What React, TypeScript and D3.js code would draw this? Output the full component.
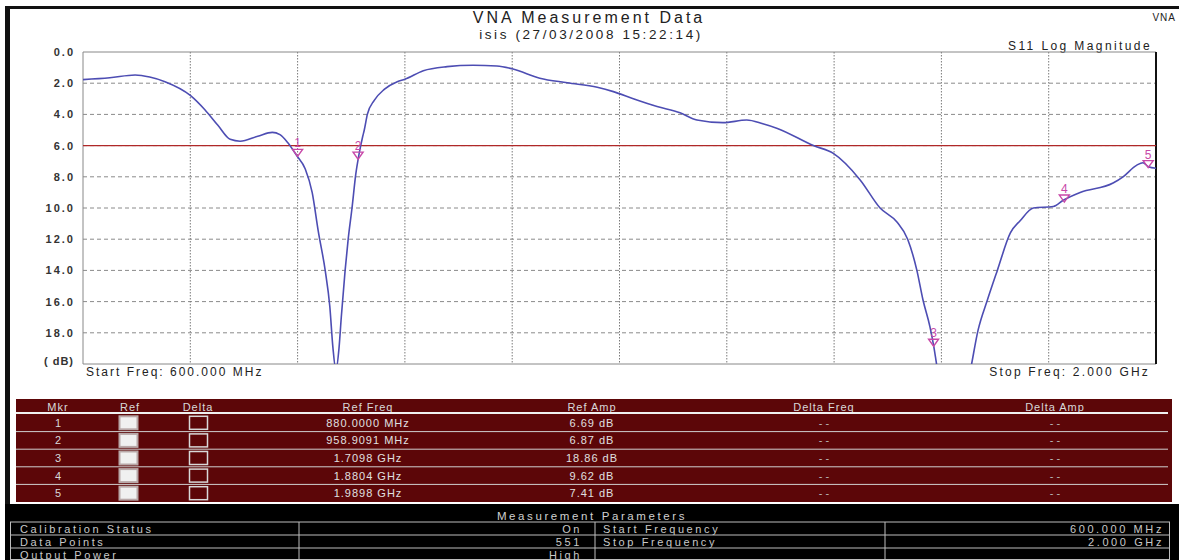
import * as d3 from 'd3';

// S11 trace (MHz, dB)
const freqMHz = [
  600, 635, 668, 687, 707, 740, 759, 776, 792, 805, 828, 847, 857, 867, 879, 890, 899, 907, 916, 922,
  926, 930, 934, 937, 942, 946, 951, 956, 960, 965, 967, 971, 980, 993, 1010, 1020, 1044, 1075, 1109, 1140,
  1161, 1196, 1232, 1271, 1292, 1318, 1349, 1379, 1401, 1435, 1466, 1487, 1506, 1553, 1579, 1614, 1640, 1662, 1676, 1688,
  1696, 1705, 1710, 1714, 1725, 1745, 1757, 1768, 1780, 1793, 1810, 1823, 1840, 1866, 1879, 1901, 1944, 1957, 1975, 1983,
  1990, 2000,
];
const s11dB = [
  1.77, 1.65, 1.47, 1.6, 1.9, 2.78, 3.7, 4.7, 5.6, 5.72, 5.4, 5.15, 5.3, 5.8, 6.65, 7.5, 9.0, 11.5, 14.0, 16.3,
  18.9, 20.4, 19.0, 17.0, 14.0, 12.0, 10.0, 7.8, 6.6, 5.4, 5.0, 4.0, 3.1, 2.4, 1.9, 1.75, 1.2, 0.94, 0.85, 0.9,
  1.09, 1.68, 1.97, 2.26, 2.54, 3.0, 3.5, 3.9, 4.36, 4.53, 4.36, 4.6, 4.9, 6.0, 6.5, 8.2, 10.0, 10.9, 12.0, 14.0,
  15.9, 17.6, 18.85, 20.1, 23, 23, 20.6, 17.8, 15.9, 14.0, 11.6, 10.8, 10.0, 9.9, 9.5, 9.0, 8.4, 8.0, 7.25, 7.1,
  7.35, 7.45,
];

const markerIds = ['1', '2', '3', '4', '5'];
const markerFreq = [880.0, 958.9091, 1709.8, 1880.4, 1989.8];
const markerAmp = [6.69, 6.87, 18.86, 9.62, 7.41];
const markerFreqLabels = ['880.0000 MHz', '958.9091 MHz', '1.7098 GHz', '1.8804 GHz', '1.9898 GHz'];
const markerAmpLabels = ['6.69 dB', '6.87 dB', '18.86 dB', '9.62 dB', '7.41 dB'];

const yTicks = [0, 2, 4, 6, 8, 10, 12, 14, 16, 18];
const refLevel = 6.0;

const tableHeaders = ['Mkr', 'Ref', 'Delta', 'Ref Freq', 'Ref Amp', 'Delta Freq', 'Delta Amp'];

const paramLeftLabels = ['Calibration Status', 'Data Points', 'Output Power'];
const paramLeftValues = ['On', '551', 'High'];
const paramRightLabels = ['Start Frequency', 'Stop Frequency', ''];
const paramRightValues = ['600.000 MHz', '2.000 GHz', ''];

const W = 1179;
const H = 560;
const plot = { left: 83, top: 52, right: 1156, bottom: 364 };
const font = '"Liberation Sans", Arial, sans-serif';

export default function App() {
  const x = d3.scaleLinear().domain([600, 2000]).range([plot.left, plot.right]);
  const y = d3.scaleLinear().domain([0, 20]).range([plot.top, plot.bottom]);

  const pts = freqMHz.map((f, i) => [f, s11dB[i]] as [number, number]);
  const line = d3.line<[number, number]>()
    .x(d => x(d[0]))
    .y(d => y(d[1]))
    .curve(d3.curveMonotoneX);

  const xGrid = d3.range(1, 10).map(i => 600 + i * 140);

  // table layout
  const tTop = 399;
  const tHead = 414;
  const rowH = 17.6;
  const colX = [58, 130, 198, 368, 592, 824, 1055];

  const pTop = 522;
  const pRowH = 13;
  const pText = '#c8c8c8';

  return (
    <svg
      width={W}
      height={H}
      style={{ position: 'fixed', left: 0, top: 0, background: '#fff' }}
      fontFamily={font}
    >
      <defs>
        <clipPath id="plotClip">
          <rect x={plot.left} y={plot.top} width={plot.right - plot.left} height={plot.bottom - plot.top} />
        </clipPath>
      </defs>

      {/* outer frame */}
      <rect x={5} y={6} width={W - 5} height={3} fill="#111" />
      <rect x={5} y={6} width={5} height={H - 6} fill="#111" />

      {/* titles */}
      <text x={589} y={23} textAnchor="middle" fontSize={16} fill="#222" letterSpacing={3}>VNA Measurement Data</text>
      <text x={591} y={39} textAnchor="middle" fontSize={13.5} fill="#222" letterSpacing={2.6}>isis (27/03/2008 15:22:14)</text>
      <text x={1176} y={21} textAnchor="end" fontSize={10} fill="#222" letterSpacing={1}>VNA</text>
      <text x={1152} y={50} textAnchor="end" fontSize={12} fill="#222" letterSpacing={2.4}>S11 Log Magnitude</text>

      {/* grid */}
      {yTicks.filter(t => t > 0).map(t => (
        <line key={'h' + t} x1={plot.left} x2={plot.right} y1={y(t)} y2={y(t)}
          stroke="#8a8a8a" strokeWidth={1} strokeDasharray="4,3" />
      ))}
      {xGrid.map(f => (
        <line key={'v' + f} x1={x(f)} x2={x(f)} y1={plot.top} y2={plot.bottom}
          stroke="#7a7a7a" strokeWidth={1} strokeDasharray="1.5,1.5" />
      ))}

      {/* plot frame */}
      <line x1={plot.left} x2={plot.right} y1={plot.top} y2={plot.top} stroke="#888" />
      <line x1={plot.left} x2={plot.left} y1={plot.top} y2={plot.bottom} stroke="#888" />
      <line x1={plot.left} x2={plot.right} y1={plot.bottom} y2={plot.bottom} stroke="#888" />
      <line x1={plot.right} x2={plot.right} y1={plot.top} y2={plot.bottom} stroke="#111" strokeWidth={2} />

      {/* y tick labels */}
      {yTicks.map(t => (
        <text key={'yl' + t} x={75} y={y(t) + 4} textAnchor="end" fontSize={11} fontWeight="bold"
          fill="#333" letterSpacing={2}>{t.toFixed(1)}</text>
      ))}
      <text x={74} y={y(20) + 1} textAnchor="end" fontSize={11} fontWeight="bold" fill="#333" letterSpacing={1}>( dB)</text>

      {/* reference level */}
      <line x1={plot.left} x2={plot.right} y1={y(refLevel)} y2={y(refLevel)} stroke="#b02828" strokeWidth={1.2} />

      {/* trace */}
      <path d={line(pts) ?? ''} fill="none" stroke="#4d4db3" strokeWidth={1.6} clipPath="url(#plotClip)" />

      {/* markers */}
      {markerIds.map((id, i) => {
        const mx = x(markerFreq[i]);
        const my = y(markerAmp[i]);
        return (
          <g key={'m' + id}>
            <path d={`M${mx - 5},${my - 7} L${mx + 5},${my - 7} L${mx},${my} Z`}
              fill="none" stroke="#c848a8" strokeWidth={1.4} />
            <text x={mx} y={my - 9} textAnchor="middle" fontSize={12} fill="#c848a8">{id}</text>
          </g>
        );
      })}

      <text x={86} y={376} fontSize={12} fill="#222" letterSpacing={2}>Start Freq: 600.000 MHz</text>
      <text x={1150} y={376} textAnchor="end" fontSize={12} fill="#222" letterSpacing={2.2}>Stop Freq: 2.000 GHz</text>

      {/* marker table */}
      <rect x={16} y={tTop} width={1156} height={103} fill="#5c0608" />
      {tableHeaders.map((h, i) => (
        <text key={'th' + i} x={colX[i]} y={411} textAnchor="middle" fontSize={11} fill="#d8d8d8"
          letterSpacing={1}>{h}</text>
      ))}
      <line x1={16} x2={1168} y1={tHead - 1} y2={tHead - 1} stroke="#f0f0f0" strokeWidth={2} />
      {markerIds.map((id, i) => {
        const ry = tHead + i * rowH;
        const cy = ry + rowH / 2;
        return (
          <g key={'r' + id}>
            {i > 0 && <line x1={16} x2={1168} y1={ry} y2={ry} stroke="#d0d0d0" strokeWidth={1} />}
            <text x={colX[0]} y={cy + 4} textAnchor="middle" fontSize={11} fill="#d8d8d8">{id}</text>
            <rect x={119.5} y={cy - 6.5} width={18} height={13} fill="#f0f0f0" stroke="#b8a8a8" strokeWidth={2} />
            <rect x={189.5} y={cy - 6.5} width={18} height={13} fill="#5c0608" stroke="#d8d8d8" strokeWidth={1.5} />
            <text x={colX[3]} y={cy + 4} textAnchor="middle" fontSize={11} fill="#e0e0e0" letterSpacing={1}>{markerFreqLabels[i]}</text>
            <text x={colX[4]} y={cy + 4} textAnchor="middle" fontSize={11} fill="#e0e0e0" letterSpacing={1}>{markerAmpLabels[i]}</text>
            <text x={colX[5]} y={cy + 4} textAnchor="middle" fontSize={11} fill="#b8b8b8">- -</text>
            <text x={colX[6]} y={cy + 4} textAnchor="middle" fontSize={11} fill="#b8b8b8">- -</text>
          </g>
        );
      })}

      {/* measurement parameters */}
      <rect x={5} y={504} width={W - 5} height={H - 504} fill="#000" />
      <text x={592} y={520} textAnchor="middle" fontSize={11.5} fill="#d0d0d0" letterSpacing={2.6}>Measurement Parameters</text>
      {paramLeftLabels.map((lbl, i) => {
        const ry = pTop + i * pRowH;
        const ty = ry + pRowH / 2 + 4;
        return (
          <g key={'p' + i}>
            <line x1={10} x2={1170} y1={ry} y2={ry} stroke="#bdbdbd" strokeWidth={1} />
            <text x={20} y={ty} fontSize={11} fill={pText} letterSpacing={2.6}>{lbl}</text>
            <text x={582} y={ty} textAnchor="end" fontSize={11} fill={pText} letterSpacing={2.6}>{paramLeftValues[i]}</text>
            <text x={603} y={ty} fontSize={11} fill={pText} letterSpacing={2.6}>{paramRightLabels[i]}</text>
            <text x={1164} y={ty} textAnchor="end" fontSize={11} fill={pText} letterSpacing={2.6}>{paramRightValues[i]}</text>
          </g>
        );
      })}
      <line x1={10} x2={1170} y1={H - 0.5} y2={H - 0.5} stroke="#bdbdbd" />
      {[10.5, 299, 595, 885, 1169.5].map(vx => (
        <line key={'pv' + vx} x1={vx} x2={vx} y1={pTop} y2={H} stroke="#bdbdbd" strokeWidth={1} />
      ))}
    </svg>
  );
}
